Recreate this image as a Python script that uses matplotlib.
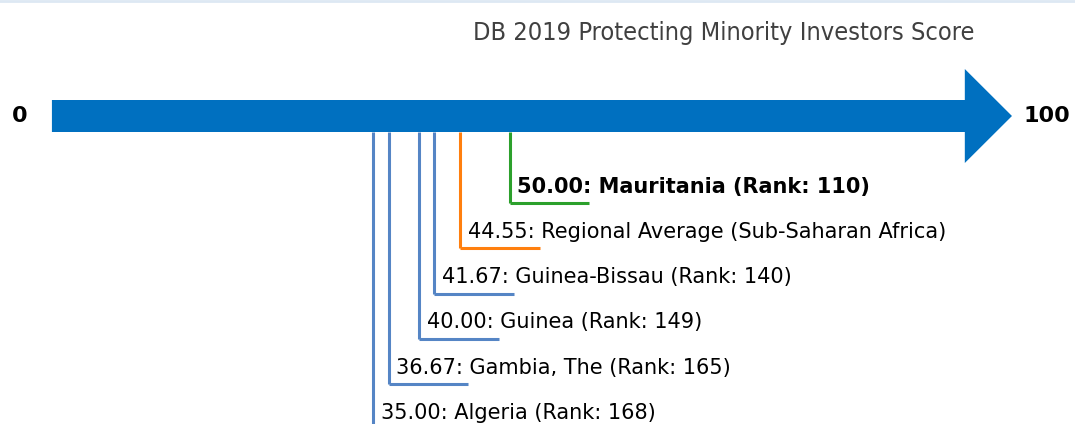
import matplotlib.pyplot as plt
from matplotlib.patches import FancyArrow

# data
names = ["Mauritania (Rank: 110)", "Regional Average (Sub-Saharan Africa)",
         "Guinea-Bissau (Rank: 140)", "Guinea (Rank: 149)",
         "Gambia, The (Rank: 165)", "Algeria (Rank: 168)"]
scores = [50.00, 44.55, 41.67, 40.00, 36.67, 35.00]
colors = ["#2ca02c", "#ff7f0e", "#5585c5", "#5585c5", "#5585c5", "#5585c5"]
title = "DB 2019 Protecting Minority Investors Score"

fig = plt.figure(figsize=(10.75, 4.24), dpi=100)
ax = fig.add_axes([0, 0, 1, 1])
# x in score units, y in pixel rows (top = 0)
px = 9.07
ax.set_xlim(-56 / px, (1075 - 56) / px)
ax.set_ylim(424, 0)
ax.axis("off")

# light border line at top
ax.axhline(1, color="#dde8f3", lw=2)

# the arrow
arrow_y = 116
ax.add_patch(FancyArrow(-0.45, arrow_y, 105.85, 0, width=32, head_width=94,
                        head_length=5.2, length_includes_head=True,
                        color="#0070c0", lw=0))
ax.text(-4.0, arrow_y, "0", ha="center", va="center", fontsize=16, fontweight="bold")
ax.text(109.2, arrow_y, "100", ha="center", va="center", fontsize=16, fontweight="bold")

ax.text(101.3, 33, title, ha="right", va="center", fontsize=18.2,
        fontstretch="condensed", color="#404040")

# markers and labels
for i, (n, s, c) in enumerate(zip(names, scores, colors)):
    yb = 203 + 45.3 * i
    bottom = yb if i < len(names) - 1 else 430
    ax.plot([s, s], [132, bottom], color=c, lw=2.2, solid_capstyle="butt")
    if i < len(names) - 1:
        ax.plot([s, s + 8.8], [yb, yb], color=c, lw=2.2, solid_capstyle="butt")
    ax.text(s + 0.85, yb - 16.5, "%.2f: %s" % (s, n), ha="left", va="center",
            fontsize=15, fontweight="bold" if i == 0 else "normal", color="black")

plt.savefig("out.png", dpi=100)
